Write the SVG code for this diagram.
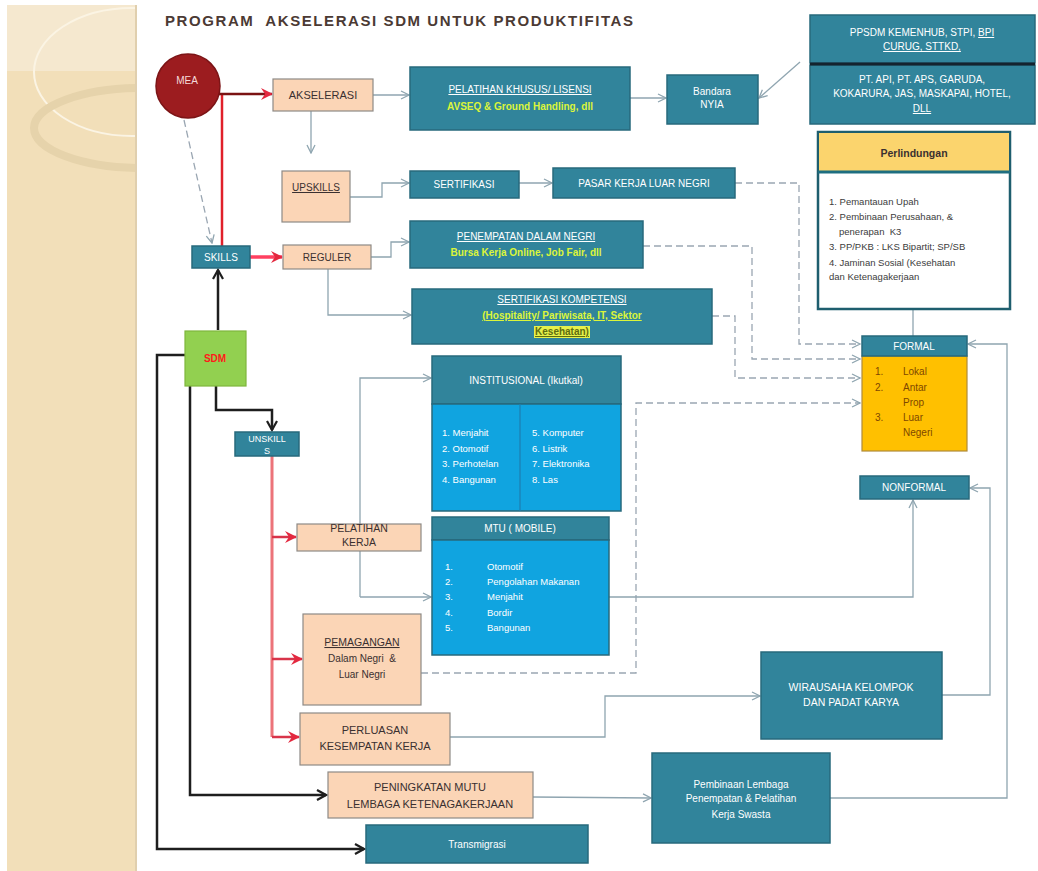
<svg xmlns="http://www.w3.org/2000/svg" width="1038" height="871" viewBox="0 0 1038 871">
<style>
text{font-family:"Liberation Sans",Arial,sans-serif}
.teal{fill:#31849b;stroke:#27697c;stroke-width:1.5}
.peach{fill:#fbd5b6;stroke:#8e8a86;stroke-width:1.2}
.blue{fill:#10a4e0;stroke:#27697c;stroke-width:1.5}
.w{fill:#fff;font-size:10px;text-anchor:middle}
.wl{fill:#fff;font-size:9.5px}
.d{fill:#3a3030;font-size:11px;text-anchor:middle}
.y{fill:#dcf53a;font-size:10px;font-weight:bold;text-anchor:middle}
.u{text-decoration:underline}
.p{fill:#3c3c3c;font-size:9.5px}
.o{fill:#7e4700;font-size:10px}
.c{fill:none;stroke:#8fa5b0;stroke-width:1.3}
.cd{fill:none;stroke:#9aa6b2;stroke-width:1.3;stroke-dasharray:7 4}
.k{fill:none;stroke:#1e1e1e;stroke-width:2.5}
.r{fill:none;stroke:#ec7379;stroke-width:3}
.rb{fill:none;stroke:#d8344a;stroke-width:2.5}
</style>
<defs>
<marker id="mg" markerUnits="userSpaceOnUse" markerWidth="10" markerHeight="10" refX="9" refY="5" orient="auto"><path d="M1,1 L9,5 L1,9" fill="none" stroke="#8fa5b0" stroke-width="1.3"/></marker>
<marker id="mk" markerUnits="userSpaceOnUse" markerWidth="12" markerHeight="12" refX="10" refY="6" orient="auto"><path d="M1,1 L10,6 L1,11" fill="none" stroke="#1e1e1e" stroke-width="2.2"/></marker>
<marker id="mr" markerUnits="userSpaceOnUse" markerWidth="12" markerHeight="12" refX="11" refY="6" orient="auto"><path d="M0,0 L12,6 L0,12 L4,6z" fill="#e3283f"/></marker>
<clipPath id="cp"><rect x="7" y="5" width="129" height="866"/></clipPath>
</defs>

<g id="background">
<rect x="0" y="0" width="1038" height="871" fill="#fff"/>
<rect x="7" y="5" width="129" height="866" fill="#f2dfb9"/>
<g clip-path="url(#cp)">
<rect x="7" y="5" width="129" height="66" fill="#f5e8cf"/>
<ellipse cx="132" cy="72" rx="98" ry="64" fill="none" stroke="#fbf4e4" stroke-width="2"/>
<ellipse cx="142" cy="128" rx="108" ry="40" fill="none" stroke="#e6d3ab" stroke-width="8"/>
</g>
<line x1="136" y1="5" x2="136" y2="871" stroke="#e0cfae" stroke-width="2"/>
</g>

<text id="title" x="165" y="26" font-size="15" font-weight="bold" fill="#4b3a34" textLength="468" style="white-space:pre">PROGRAM  AKSELERASI SDM UNTUK PRODUKTIFITAS</text>

<g id="connectors">
<path d="M222,94 V246" fill="none" stroke="#e0202a" stroke-width="2.5"/>
<path d="M218,94 H272" fill="none" stroke="#7a1212" stroke-width="2.5" marker-end="url(#mr)"/>
<path class="cd" d="M184,120 L212,243" marker-end="url(#mg)"/>
<path class="c" d="M311,111 V153" marker-end="url(#mg)"/>
<path class="c" d="M373,95 H409" marker-end="url(#mg)"/>
<path class="c" d="M630,98 H666" marker-end="url(#mg)"/>
<path class="c" d="M800,62 L759,98" marker-end="url(#mg)"/>
<path class="c" d="M350,197 H382 V183 H409" marker-end="url(#mg)"/>
<path class="c" d="M519,183 H552" marker-end="url(#mg)"/>
<path d="M250,257 H282" fill="none" stroke="#ff4060" stroke-width="3.5" marker-end="url(#mr)"/>
<path class="c" d="M371,257 H391 V242 H409" marker-end="url(#mg)"/>
<path class="c" d="M328,269 V315 H411" marker-end="url(#mg)"/>
<path class="cd" d="M735,183 H799 V344 H860" marker-end="url(#mg)"/>
<path class="cd" d="M643,246 H752 V359 H860" marker-end="url(#mg)"/>
<path class="cd" d="M712,316 H735 V378 H860" marker-end="url(#mg)"/>
<path class="cd" d="M421,673 H636 V403 H860" marker-end="url(#mg)"/>
<path class="c" d="M913,310 V360" marker-end="url(#mg)"/>
<path class="c" d="M830,798 H1007 V344 H968" marker-end="url(#mg)"/>
<path class="c" d="M942,695 H990 V488 H970" marker-end="url(#mg)"/>
<path class="c" d="M609,597 H913 V500" marker-end="url(#mg)"/>
<path class="c" d="M360,597 V378 H431" marker-end="url(#mg)"/>
<path class="c" d="M360,597 H431" marker-end="url(#mg)"/>
<path class="c" d="M450,737 H605 V696 H760" marker-end="url(#mg)"/>
<path class="c" d="M533,797 L651,798" marker-end="url(#mg)"/>
<path class="k" d="M218,330 V270" marker-end="url(#mk)"/>
<path class="k" d="M216,386 V410 H272 V430" marker-end="url(#mk)"/>
<path class="k" d="M186,355 H157 V849 H364" marker-end="url(#mk)"/>
<path class="k" d="M190,386 V795 H326" marker-end="url(#mk)"/>
<path class="r" d="M272,456 V737"/>
<path class="rb" d="M272,537 H296" marker-end="url(#mr)"/>
<path class="rb" d="M272,659 H302" marker-end="url(#mr)"/>
<path class="rb" d="M272,737 H299" marker-end="url(#mr)"/>
</g>

<g id="mea">
<circle cx="188" cy="86" r="32" fill="#9c1c1f" stroke="#7c1416" stroke-width="1.5"/>
<text x="187" y="84" class="w" style="fill:#f5dada">MEA</text>
</g>
<g id="akselerasi"><rect class="peach" x="273" y="79" width="100" height="32"/><text class="d" x="323" y="99">AKSELERASI</text></g>
<g id="pelatihan-khusus"><rect class="teal" x="410" y="67" width="220" height="63"/>
<text class="w u" x="520" y="93">PELATIHAN KHUSUS/ LISENSI</text>
<text class="y" x="520" y="110">AVSEQ &amp; Ground Handling, dll</text></g>
<g id="bandara"><rect class="teal" x="667" y="75" width="91" height="49"/>
<text class="w" x="712" y="95" font-size="9">Bandara</text><text class="w" x="712" y="108" font-size="9">NYIA</text></g>
<g id="ppsdm"><rect class="teal" x="810" y="15" width="225" height="48"/>
<text class="w" x="922" y="36">PPSDM KEMENHUB, STPI, <tspan class="u">BPI</tspan></text>
<text class="w u" x="922" y="50">CURUG, STTKD,</text></g>
<g id="pt-api"><rect class="teal" x="810" y="65" width="225" height="59"/>
<line x1="810" y1="64" x2="1035" y2="64" stroke="#14232e" stroke-width="3"/>
<text class="w" x="922" y="83">PT. API, PT. APS, GARUDA,</text>
<text class="w" x="922" y="97">KOKARURA, JAS, MASKAPAI, HOTEL,</text>
<text class="w u" x="922" y="112">DLL</text></g>
<g id="perlindungan"><rect x="818" y="132" width="192" height="177" fill="#fff" stroke="#1e5e6e" stroke-width="2.5"/>
<rect x="819" y="133" width="190" height="39" fill="#fbd46d"/>
<line x1="818" y1="172" x2="1010" y2="172" stroke="#1e6e80" stroke-width="3"/>
<text x="914" y="157" font-size="10.5" font-weight="bold" fill="#3a3030" text-anchor="middle">Perlindungan</text>
<text class="p" x="829" y="205">1. Pemantauan Upah</text>
<text class="p" x="829" y="220">2. Pembinaan Perusahaan, &amp;</text>
<text class="p" x="839" y="235" style="white-space:pre">penerapan  K3</text>
<text class="p" x="829" y="250">3. PP/PKB : LKS Bipartit; SP/SB</text>
<text class="p" x="829" y="266">4. Jaminan Sosial (Kesehatan</text>
<text class="p" x="829" y="280">dan Ketenagakerjaan</text></g>
<g id="upskills"><rect class="peach" x="282" y="171" width="68" height="51"/><text class="d u" x="316" y="191" style="font-size:10px">UPSKILLS</text></g>
<g id="sertifikasi"><rect class="teal" x="410" y="171" width="109" height="27"/><text class="w" x="464" y="188">SERTIFIKASI</text></g>
<g id="pasar-kerja"><rect class="teal" x="553" y="168" width="182" height="30"/><text class="w" x="644" y="187">PASAR KERJA LUAR NEGRI</text></g>
<g id="skills"><rect class="teal" x="192" y="246" width="58" height="22"/><text class="w" x="221" y="261">SKILLS</text></g>
<g id="reguler"><rect class="peach" x="283" y="245" width="88" height="24"/><text class="d" x="327" y="261" style="font-size:10px">REGULER</text></g>
<g id="penempatan"><rect class="teal" x="410" y="221" width="233" height="47"/>
<text class="w u" x="526" y="240">PENEMPATAN DALAM NEGRI</text>
<text class="y" x="526" y="256">Bursa Kerja Online, Job Fair, dll</text></g>
<g id="sertifikasi-kompetensi"><rect class="teal" x="412" y="289" width="300" height="55"/>
<text class="w u" x="562" y="303">SERTIFIKASI KOMPETENSI</text>
<text class="y u" x="562" y="319">(Hospitality/ Pariwisata, IT, Sektor</text>
<rect x="534" y="326" width="56" height="12" fill="#e6f04a"/>
<text class="y u" x="562" y="335" style="fill:#5e6c10">Kesehatan)</text></g>
<g id="sdm"><rect x="185" y="331" width="61" height="55" fill="#92d050" stroke="#7fb63c" stroke-width="1.2"/>
<text x="215" y="362" font-size="10" font-weight="bold" fill="#ff1a1a" text-anchor="middle">SDM</text></g>
<g id="institusional"><rect class="teal" x="432" y="356" width="189" height="48"/>
<rect class="blue" x="432" y="404" width="189" height="107"/>
<line x1="520" y1="404" x2="520" y2="511" stroke="#1d7fb0" stroke-width="1.2"/>
<text class="w" x="526" y="384">INSTITUSIONAL (Ikutkal)</text>
<text class="wl" x="442" y="436">1. Menjahit</text><text class="wl" x="442" y="452">2. Otomotif</text>
<text class="wl" x="442" y="467">3. Perhotelan</text><text class="wl" x="442" y="483">4. Bangunan</text>
<text class="wl" x="532" y="436">5. Komputer</text><text class="wl" x="532" y="452">6. Listrik</text>
<text class="wl" x="532" y="467">7. Elektronika</text><text class="wl" x="532" y="483">8. Las</text></g>
<g id="unskills"><rect class="teal" x="235" y="432" width="64" height="24"/>
<text class="w" x="267" y="442" style="font-size:9px">UNSKILL</text><text class="w" x="267" y="454" style="font-size:9px">S</text></g>
<g id="pelatihan-kerja"><rect class="peach" x="297" y="524" width="124" height="27"/>
<text class="d" x="359" y="532" style="font-size:10.5px">PELATIHAN</text><text class="d" x="359" y="546" style="font-size:10.5px">KERJA</text></g>
<g id="mtu"><rect class="teal" x="432" y="517" width="177" height="23"/>
<rect class="blue" x="432" y="540" width="177" height="115"/>
<text class="w" x="520" y="532">MTU ( MOBILE)</text>
<text class="wl" x="445" y="570">1.</text><text class="wl" x="487" y="570">Otomotif</text>
<text class="wl" x="445" y="585">2.</text><text class="wl" x="487" y="585">Pengolahan Makanan</text>
<text class="wl" x="445" y="600">3.</text><text class="wl" x="487" y="600">Menjahit</text>
<text class="wl" x="445" y="616">4.</text><text class="wl" x="487" y="616">Bordir</text>
<text class="wl" x="445" y="631">5.</text><text class="wl" x="487" y="631">Bangunan</text></g>
<g id="pemagangan"><rect class="peach" x="303" y="614" width="118" height="91"/>
<text class="d u" x="362" y="646" style="font-size:10.5px">PEMAGANGAN</text>
<text class="d" x="362" y="662" style="font-size:10px;white-space:pre">Dalam Negri  &amp;</text>
<text class="d" x="362" y="678" style="font-size:10px">Luar Negri</text></g>
<g id="perluasan"><rect class="peach" x="300" y="713" width="150" height="52"/>
<text class="d" x="375" y="734">PERLUASAN</text><text class="d" x="375" y="750">KESEMPATAN KERJA</text></g>
<g id="peningkatan"><rect class="peach" x="328" y="772" width="205" height="46"/>
<text class="d" x="430" y="791">PENINGKATAN MUTU</text><text class="d" x="430" y="808">LEMBAGA KETENAGAKERJAAN</text></g>
<g id="transmigrasi"><rect class="teal" x="366" y="825" width="222" height="38"/><text class="w" x="477" y="848">Transmigrasi</text></g>
<g id="pembinaan"><rect class="teal" x="652" y="753" width="178" height="90"/>
<text class="w" x="741" y="788">Pembinaan Lembaga</text>
<text class="w" x="741" y="802">Penempatan &amp; Pelatihan</text>
<text class="w" x="741" y="818">Kerja Swasta</text></g>
<g id="wirausaha"><rect class="teal" x="761" y="652" width="181" height="87"/>
<text class="w" x="851" y="691" style="font-size:10.5px">WIRAUSAHA KELOMPOK</text>
<text class="w" x="851" y="706" style="font-size:10.5px">DAN PADAT KARYA</text></g>
<g id="formal"><rect x="862" y="356" width="105" height="95" fill="#ffc000" stroke="#b08a3a" stroke-width="1.2"/>
<rect class="teal" x="862" y="336" width="105" height="20"/>
<text class="w" x="914" y="350">FORMAL</text>
<text class="o" x="875" y="375">1.</text><text class="o" x="903" y="375">Lokal</text>
<text class="o" x="875" y="391">2.</text><text class="o" x="903" y="391">Antar</text>
<text class="o" x="903" y="406">Prop</text>
<text class="o" x="875" y="421">3.</text><text class="o" x="903" y="421">Luar</text>
<text class="o" x="903" y="436">Negeri</text></g>
<g id="nonformal"><rect class="teal" x="860" y="476" width="109" height="23"/><text class="w" x="914" y="491">NONFORMAL</text></g>
</svg>
